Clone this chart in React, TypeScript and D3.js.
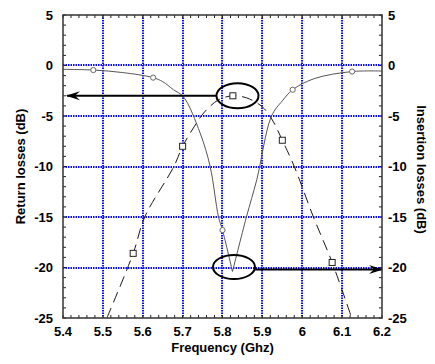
import React from "react";
import * as d3 from "d3";

// frequency (GHz) / return loss S11 (dB)
const s11Freq = [5.4, 5.476, 5.55, 5.626, 5.65, 5.677, 5.702, 5.744, 5.769, 5.79, 5.8, 5.825, 5.86, 5.886, 5.923, 5.95, 5.976, 6.03, 6.125, 6.2];
const s11Db = [-0.38, -0.45, -0.7, -1.2, -1.6, -2.4, -3.1, -6.7, -10, -15, -16.3, -20.4, -15, -11.3, -5, -3.5, -2.4, -1.3, -0.6, -0.55];
const s11MarkerFreq = [5.476, 5.626, 5.8, 5.976, 6.125];
const s11MarkerDb = [-0.45, -1.2, -16.3, -2.4, -0.6];

// frequency (GHz) / insertion loss S21 (dB)
const s21Freq = [5.51, 5.576, 5.605, 5.678, 5.7, 5.73, 5.755, 5.79, 5.826, 5.86, 5.9, 5.925, 5.95, 5.98, 6.028, 6.075, 6.124];
const s21Db = [-25, -18.6, -15, -10, -8.0, -6.0, -4.6, -3.4, -3.0, -3.2, -4.1, -5.4, -7.4, -10, -15, -19.5, -25];
const s21MarkerFreq = [5.576, 5.7, 5.826, 5.95, 6.075];
const s21MarkerDb = [-18.6, -8.0, -3.0, -7.4, -19.5];

const xTicks = [5.4, 5.5, 5.6, 5.7, 5.8, 5.9, 6, 6.1, 6.2];
const xTickLabels = ["5.4", "5.5", "5.6", "5.7", "5.8", "5.9", "6", "6.1", "6.2"];
const yTicks = [5, 0, -5, -10, -15, -20, -25];

// ellipses: centre freq, centre dB, half width (GHz), half height (dB)
const ellipseFreq = [5.8376, 5.8288];
const ellipseDb = [-3.0, -19.95];
const ellipseRx = [0.0527, 0.0527];
const ellipseRy = [1.24, 1.19];
// arrows: from / to (freq, dB)
const arrowFrom = [[5.785, -3.0], [5.882, -20.2]];
const arrowTo = [[5.41, -3.0], [6.2, -20.2]];

const W = 435, H = 364;
const margin = { top: 15, right: 53, bottom: 46, left: 63 };
const font = "'Liberation Sans', Arial, sans-serif";

export default function App() {
  const iw = W - margin.left - margin.right;
  const ih = H - margin.top - margin.bottom;
  const x = d3.scaleLinear().domain([5.4, 6.2]).range([margin.left, margin.left + iw]);
  const y = d3.scaleLinear().domain([-25, 5]).range([margin.top + ih, margin.top]);

  const line = d3.line<[number, number]>()
    .x(d => x(d[0]))
    .y(d => y(d[1]))
    .curve(d3.curveCatmullRom.alpha(0.5));

  const s11 = s11Freq.map((f, i) => [f, s11Db[i]] as [number, number]);
  const s21 = s21Freq.map((f, i) => [f, s21Db[i]] as [number, number]);
  // the resonance dip is a sharp V: draw both flanks separately
  const iMin = d3.minIndex(s11Db);
  const s11Left = s11.slice(0, iMin + 1);
  const s11Right = s11.slice(iMin);

  const xMinor = d3.range(5.4, 6.2001, 0.02);
  const yMinor = d3.range(-25, 5.001, 1);
  const x0 = margin.left, x1 = margin.left + iw, y0 = margin.top, y1 = margin.top + ih;
  const r = (v: number) => Math.round(v);

  const grid = { stroke: "#0a0aff", strokeWidth: 2, strokeDasharray: "1.5,1" };

  return (
    <svg width={W} height={H} style={{ position: "absolute", left: 0, top: 0, background: "#fff" }}>
      <defs>
        <clipPath id="plot">
          <rect x={x0} y={y0} width={iw} height={ih} />
        </clipPath>
        <marker id="head" viewBox="0 0 14 10" refX="13" refY="5" markerWidth="14" markerHeight="10" markerUnits="userSpaceOnUse" orient="auto">
          <path d="M0,0.5 L14,5 L0,9.5 L5,5 Z" fill="#000" />
        </marker>
      </defs>

      {/* grid */}
      {xTicks.slice(1, -1).map(t => (
        <line key={"gx" + t} x1={r(x(t))} x2={r(x(t))} y1={y0} y2={y1} {...grid} />
      ))}
      {yTicks.slice(1, -1).map(t => (
        <line key={"gy" + t} x1={x0} x2={x1} y1={r(y(t))} y2={r(y(t))} {...grid} />
      ))}

      {/* minor ticks, inward on all sides */}
      {xMinor.map((t, i) => (
        <g key={"tx" + i} stroke="#222" strokeWidth={1}>
          <line x1={x(t)} x2={x(t)} y1={y1} y2={y1 - 3} />
          <line x1={x(t)} x2={x(t)} y1={y0} y2={y0 + 3} />
        </g>
      ))}
      {yMinor.map((t, i) => (
        <g key={"ty" + i} stroke="#222" strokeWidth={1}>
          <line x1={x0} x2={x0 + 3} y1={y(t)} y2={y(t)} />
          <line x1={x1} x2={x1 - 3} y1={y(t)} y2={y(t)} />
        </g>
      ))}

      <g clipPath="url(#plot)">
        <path d={line(s11Left) || ""} fill="none" stroke="#555" strokeWidth={1} />
        <path d={line(s11Right) || ""} fill="none" stroke="#555" strokeWidth={1} />
        <path d={line(s21) || ""} fill="none" stroke="#1a1a1a" strokeWidth={1} strokeDasharray="11,6" />
      </g>

      {s11MarkerFreq.map((f, i) => (
        <circle key={"c" + i} cx={x(f)} cy={y(s11MarkerDb[i])} r={2.6} fill="#fff" stroke="#666" strokeWidth={1} />
      ))}
      {s21MarkerFreq.map((f, i) => (
        <rect key={"s" + i} x={x(f) - 3} y={y(s21MarkerDb[i]) - 3} width={6} height={6} fill="#fff" stroke="#222" strokeWidth={1} />
      ))}

      {/* annotations */}
      {ellipseFreq.map((f, i) => (
        <ellipse key={"e" + i} cx={x(f)} cy={y(ellipseDb[i])}
          rx={x(f + ellipseRx[i]) - x(f)} ry={y(ellipseDb[i] - ellipseRy[i]) - y(ellipseDb[i])}
          fill="none" stroke="#000" strokeWidth={2} />
      ))}
      {arrowFrom.map((a, i) => (
        <line key={"a" + i} x1={x(a[0])} y1={y(a[1])} x2={x(arrowTo[i][0])} y2={y(arrowTo[i][1])}
          stroke="#000" strokeWidth={2} markerEnd="url(#head)" />
      ))}

      {/* frame */}
      <rect x={x0} y={y0} width={iw} height={ih} fill="none" stroke="#333" strokeWidth={1.5} />

      {/* tick labels */}
      <g fontFamily={font} fontWeight="bold" fontSize={13} fill="#000">
        {xTicks.map((t, i) => (
          <text key={"lx" + i} x={x(t)} y={y1 + 18} textAnchor="middle">{xTickLabels[i]}</text>
        ))}
        {yTicks.map(t => (
          <text key={"ly" + t} x={x0 - 10} y={y(t)} dy="0.35em" textAnchor="end">{t}</text>
        ))}
        {yTicks.map(t => (
          <text key={"ry" + t} x={x1 + 6} y={y(t)} dy="0.35em" textAnchor="start">{t}</text>
        ))}
        <text x={(x0 + x1) / 2} y={352} textAnchor="middle">Frequency (Ghz)</text>
        <text transform={`translate(25,${(y0 + y1) / 2}) rotate(-90)`} textAnchor="middle">Return losses (dB)</text>
        <text transform={`translate(417,${(y0 + y1) / 2 + 3}) rotate(90)`} textAnchor="middle">Insertion losses (dB)</text>
      </g>
    </svg>
  );
}
